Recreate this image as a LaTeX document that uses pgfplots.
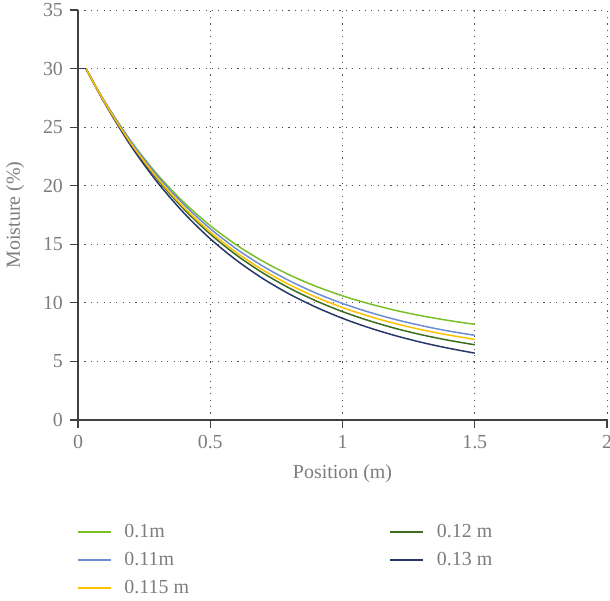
\documentclass[border=0pt]{standalone}
\usepackage{fontspec}
\setmainfont{Liberation Serif}
\usepackage{pgfplots}
\usepackage{pgfplotstable}
\pgfplotsset{compat=1.18}

\definecolor{cA}{RGB}{122,190,40}
\definecolor{cB}{RGB}{110,140,210}
\definecolor{cC}{RGB}{255,192,0}
\definecolor{cD}{RGB}{60,110,30}
\definecolor{cE}{RGB}{40,55,105}
\definecolor{txtgray}{RGB}{125,125,125}
\definecolor{axgray}{RGB}{64,64,64}
\definecolor{gridgray}{RGB}{80,80,80}

% moisture vs position, one column per thickness
\pgfplotstableread{
x     a      b      c      d      e
0.03  30.00  30.00  30.00  30.00  30.00
0.10  27.22  27.21  27.14  27.12  27.08
0.20  23.81  23.76  23.61  23.56  23.40
0.30  20.96  20.85  20.65  20.55  20.30
0.40  18.58  18.40  18.15  18.01  17.68
0.50  16.59  16.33  16.05  15.87  15.47
0.60  14.93  14.59  14.28  14.06  13.62
0.70  13.54  13.12  12.79  12.54  12.06
0.80  12.38  11.88  11.54  11.25  10.74
0.90  11.41  10.83  10.49  10.17   9.63
1.00  10.60   9.95   9.60   9.25   8.68
1.10   9.93   9.21   8.86   8.48   7.88
1.20   9.36   8.58   8.23   7.82   7.20
1.30   8.89   8.05   7.70   7.27   6.62
1.40   8.50   7.60   7.26   6.81   6.13
1.50   8.17   7.23   6.88   6.42   5.71
}\moist

\begin{document}
\begin{tikzpicture}
\useasboundingbox (-39bp,-90.5bp) rectangle (266bp,210bp);
\begin{axis}[
    scale only axis,
    width=264.5bp, height=205bp,
    xmin=0, xmax=2, ymin=0, ymax=35,
    xtick={0,0.5,1,1.5,2}, ytick={0,5,...,35},
    axis lines*=left,
    axis line style={axgray, line width=0.6pt},
    tick style={axgray, line width=0.6pt},
    major tick length=4bp,
    tick align=outside,
    grid=major,
    major grid style={gridgray, line width=0.5pt, dash pattern=on 0.6pt off 2.6pt},
    font=\fontsize{10}{12}\selectfont,
    /pgf/number format/assume math mode=true,
    tick label style={text=txtgray},
    label style={text=txtgray},
    xlabel={Position (m)},
    ylabel={Moisture (\%)},
    xlabel style={at={(axis description cs:0.5,0)}, anchor=center, yshift=-27bp},
    ylabel style={at={(axis description cs:-0.1191,0.5)}, anchor=center},
    legend columns=2,
    legend cell align=left,
    legend image code/.code={\draw[#1] (0bp,0bp) -- (16.5bp,0bp);},
    legend style={draw=none, fill=none, inner sep=0pt, outer sep=0pt,
        at={(axis description cs:0,0)}, anchor=north west,
        xshift=-0.5bp, yshift=-49bp,
        text=txtgray, font=\fontsize{10}{12}\selectfont,
        nodes={inner sep=0pt, minimum height=14bp},
        column sep=6.5bp,
        /tikz/column 2/.style={column sep=100.2bp}},
    every axis plot/.append style={line width=0.75pt},
]
\addplot[cA, smooth] table[x=x, y=a] {\moist};
\addlegendentry{0.1m}
\addplot[cD, smooth] table[x=x, y=d] {\moist};
\addlegendentry{0.12 m}
\addplot[cB, smooth] table[x=x, y=b] {\moist};
\addlegendentry{0.11m}
\addplot[cE, smooth] table[x=x, y=e] {\moist};
\addlegendentry{0.13 m}
\addplot[cC, smooth] table[x=x, y=c] {\moist};
\addlegendentry{0.115 m}
\addplot[cE, forget plot] coordinates {(0,30) (0.03,30)};
\end{axis}
\end{tikzpicture}
\end{document}
